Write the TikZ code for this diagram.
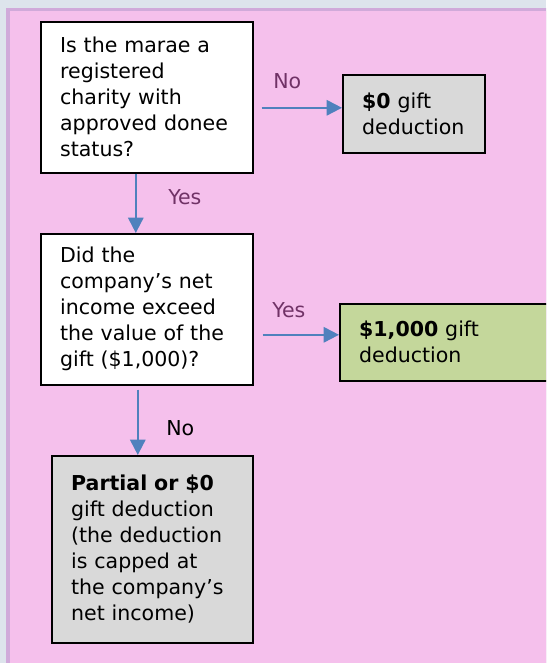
\documentclass[tikz,border=0pt]{standalone}
\usepackage{fontspec}
\setmainfont{DejaVu Sans}
\usepackage{tikz}
\usetikzlibrary{arrows.meta}
\usetikzlibrary{calc}

\definecolor{pagegray}{RGB}{221,228,236}
\definecolor{bandlilac}{RGB}{208,170,218}
\definecolor{panelpink}{RGB}{245,192,236}
\definecolor{boxgray}{RGB}{217,217,217}
\definecolor{boxgreen}{RGB}{196,215,155}
\definecolor{arrowblue}{RGB}{79,129,189}
\definecolor{labelpurple}{RGB}{112,50,102}

\begin{document}
\begin{tikzpicture}[x=0.75pt, y=-0.75pt, font=\fontsize{15.4pt}{19.5pt}\selectfont,
        box_style/.style={draw=black, line width=1.2pt, anchor=north west, align=left, inner xsep=14.5pt, inner ysep=0pt},
        question_style/.style={box_style, fill=white, text width=130pt, minimum height=113.25pt},
        nil_style/.style={box_style, fill=boxgray},
        full_style/.style={box_style, fill=boxgreen},
        edge_style/.style={draw=arrowblue, line width=1.5pt, -{Triangle[length=11.5pt,width=11.5pt]}},
        label_style/.style={anchor=base west, inner sep=0pt, text=labelpurple}]

        % page and panel
        \clip (0,0) rectangle (546,663);
        \fill [pagegray] (0,0) rectangle (546,663);
        \fill [bandlilac] (6,8) rectangle (560,680);
        \fill [panelpink] (10,11) rectangle (560,680);

        \node [question_style](q1) at (40,21) {Is the marae a\\registered\\charity with\\approved donee\\status?};

        \node [nil_style, text width=77.5pt, minimum height=58.5pt](r1) at (342,74) {\textbf{\$0} gift\\deduction};

        \node [question_style](q2) at (40,233) {Did the\\company’s net\\income exceed\\the value of the\\gift (\$1,000)?};

        \node [full_style, text width=136.75pt, minimum height=57.75pt](r2) at (339,303) {\textbf{\$1,000} gift\\deduction};

        \node [nil_style, text width=121.75pt, minimum height=140.25pt](r3) at (51,455) {\textbf{Partial or \$0}\\gift deduction\\(the deduction\\is capped at\\the company’s\\net income)\\[-6pt]};

        \draw [edge_style] ([shift={(8,10.5)}]q1.east) -- ([shift={(0,-6)}]r1.west);

        \draw [edge_style] ([shift={(-11,0)}]q1.south) -- ([shift={(-11,0)}]q2.north);

        \draw [edge_style] ([shift={(9,25.5)}]q2.east) -- ([shift={(0,-7.5)}]r2.west);

        \draw [edge_style] ([shift={(-9,4)}]q2.south) -- ([shift={(-14.5,0)}]r3.north);

        \node [label_style](l1) at (273,89) {No};

        \node [label_style](l2) at (168,204) {Yes};

        \node [label_style](l3) at (272,317) {Yes};

        \node [label_style, text=black](l4) at (166,435) {No};

\end{tikzpicture}
\end{document}
